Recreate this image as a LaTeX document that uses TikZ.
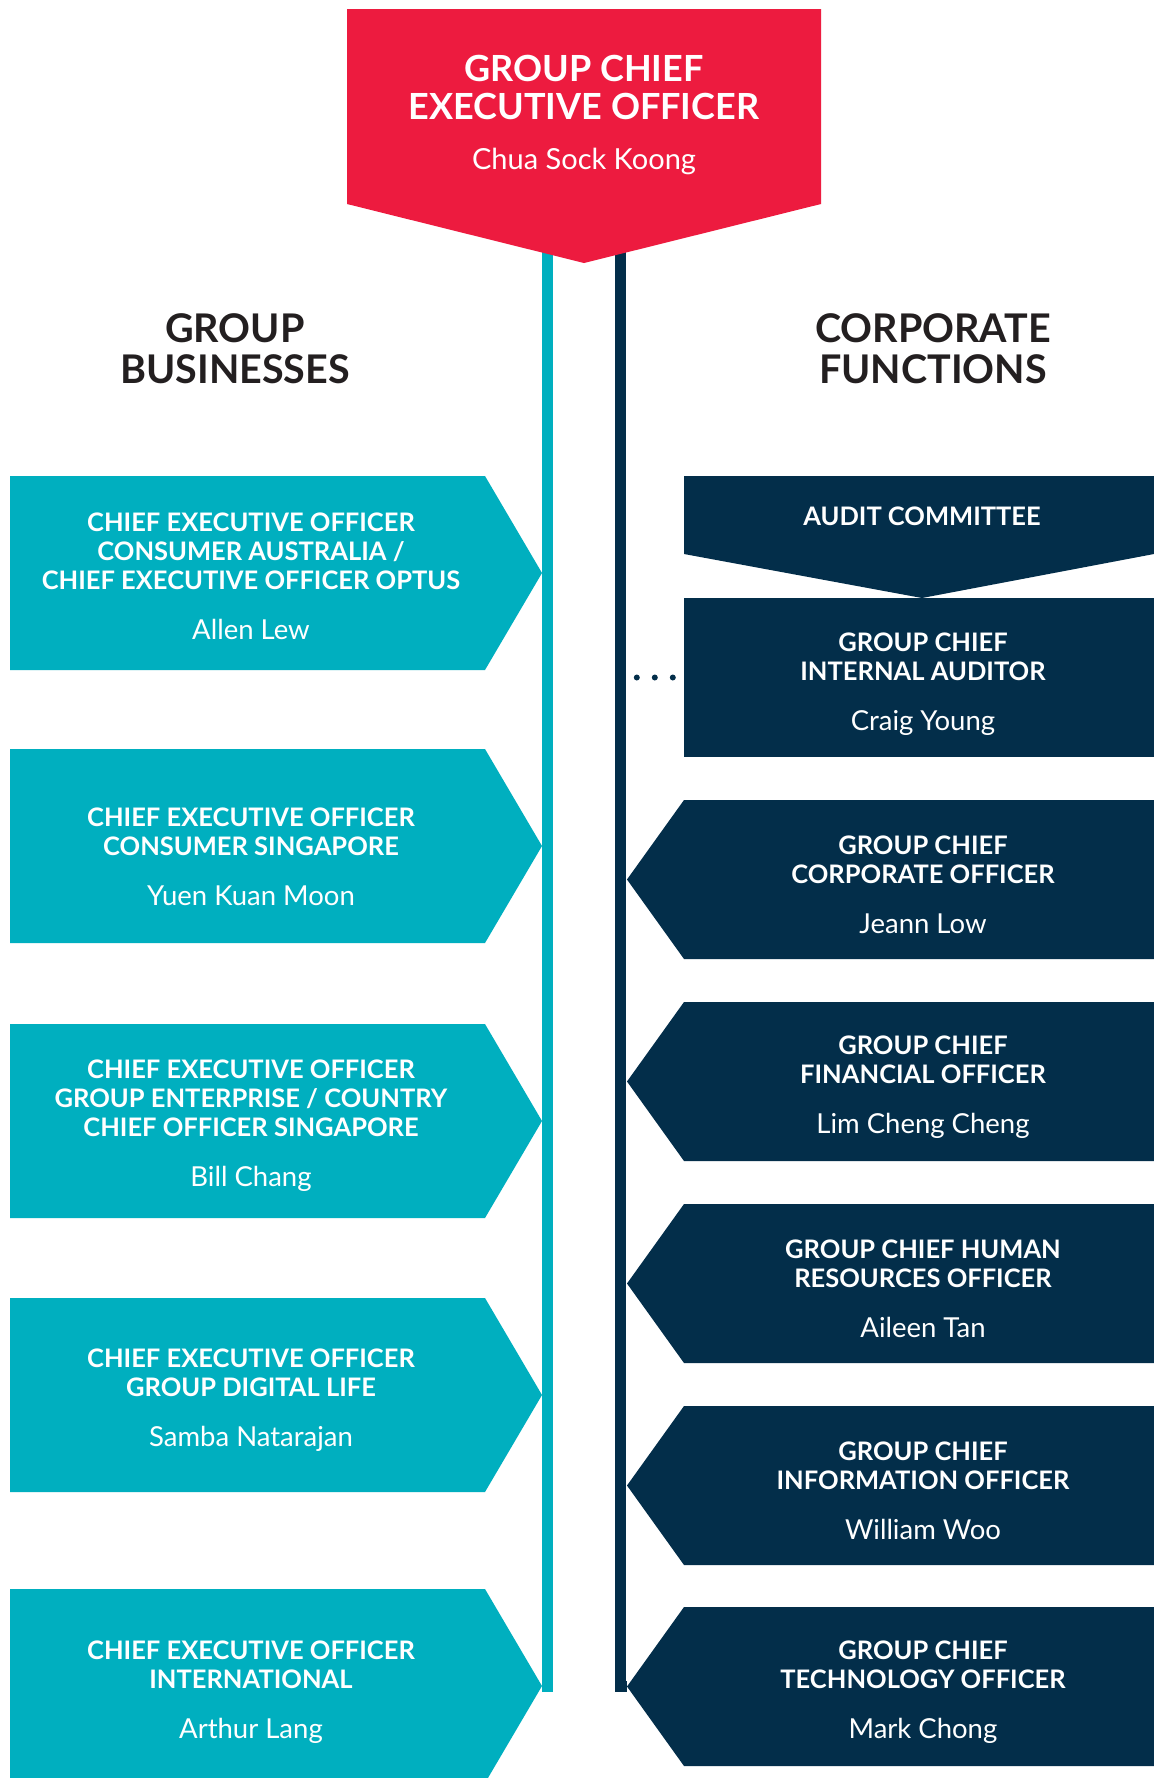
\documentclass[tikz,border=0pt]{standalone}
\usepackage{fontspec}
\setmainfont{Lato}
\usetikzlibrary{positioning}

\definecolor{ceored}{RGB}{237,27,63}
\definecolor{bizteal}{RGB}{0,175,191}
\definecolor{corpnavy}{RGB}{3,46,74}
\definecolor{headgray}{RGB}{35,31,32}

\tikzset{
  boxtext/.style={text=white, align=center, inner sep=0pt,
    font=\bfseries\fontsize{25.5}{29}\selectfont},
  ceotext/.style={text=white, align=center, inner sep=0pt,
    font=\bfseries\fontsize{36}{38}\selectfont},
  heading/.style={text=headgray, align=center, inner sep=0pt,
    font=\bfseries\fontsize{39.5}{41}\selectfont},
  bizline/.style={draw=bizteal, line width=11pt},
  corpline/.style={draw=corpnavy, line width=11pt},
  dotlink/.style={draw=corpnavy, line width=6pt, line cap=round, dash pattern=on 0pt off 18pt},
}
\newcommand{\who}[1]{{\mdseries\fontsize{27.5}{29}\selectfont #1}}

% teal arrow box pointing right at the rail: [text drop], name, top, title, person
\newcommand{\bizbox}[5][0]{%
  \fill [bizteal] (10,#3) -- (485,#3) -- (542,#3+97) -- (485,#3+194) -- (10,#3+194) -- cycle;
  \coordinate (#2-tip) at (542,#3+97);
  \node [boxtext] (#2) at (251,#3+102+#1) {#4\\[21pt]\who{#5}};
}
% navy arrow box pointing left at the rail
\newcommand{\corpbox}[4]{%
  \fill [corpnavy] (684,#2) -- (1154,#2) -- (1154,#2+159) -- (684,#2+159) -- (627,#2+79.5) -- cycle;
  \coordinate (#1-tip) at (627,#2+79.5);
  \node [boxtext] (#1) at (923,#2+85) {#3\\[21pt]\who{#4}};
}

\begin{document}
\begin{tikzpicture}[x=1pt,y=-1pt]
\fill [white] (0,0) rectangle (1154,1778);
\useasboundingbox (0,0) rectangle (1154,1778);

\node [heading] (bizhead) at (235,349) {GROUP\\BUSINESSES};
\node [heading] (corphead) at (933,349) {CORPORATE\\FUNCTIONS};

\bizbox[-2]{cons-au}{476}{CHIEF EXECUTIVE OFFICER\\CONSUMER AUSTRALIA /\\CHIEF EXECUTIVE OFFICER OPTUS}{Allen Lew}
\bizbox[6]{cons-sg}{749}{CHIEF EXECUTIVE OFFICER\\CONSUMER SINGAPORE}{Yuen Kuan Moon}
\bizbox{enterprise}{1024}{CHIEF EXECUTIVE OFFICER\\GROUP ENTERPRISE / COUNTRY\\CHIEF OFFICER SINGAPORE}{Bill Chang}
\bizbox{digital}{1298}{CHIEF EXECUTIVE OFFICER\\GROUP DIGITAL LIFE}{Samba Natarajan}
\bizbox[1]{intl}{1589}{CHIEF EXECUTIVE OFFICER\\INTERNATIONAL}{Arthur Lang}

% audit committee over the internal auditor
\fill [corpnavy] (684,476) -- (1154,476) -- (1154,554) -- (922,598) -- (684,554) -- cycle;
\node [boxtext] (audit) at (922,516) {AUDIT COMMITTEE};
\node [boxtext, fill=corpnavy, minimum width=470pt, minimum height=159pt] (gcia) at (919,677.5) {};
\node [boxtext] (gcia-text) at (923,684.5) {GROUP CHIEF\\INTERNAL AUDITOR\\[21pt]\who{Craig Young}};
\draw [dotlink] ([xshift=-47pt]gcia.west) -- (gcia.west);

\corpbox{gcco}{800}{GROUP CHIEF\\CORPORATE OFFICER}{Jeann Low}
\corpbox{gcfo}{1002}{GROUP CHIEF\\FINANCIAL OFFICER}{Lim Cheng Cheng}
\corpbox{gchro}{1204}{GROUP CHIEF HUMAN\\RESOURCES OFFICER}{Aileen Tan}
\corpbox{gcio}{1406}{GROUP CHIEF\\INFORMATION OFFICER}{William Woo}
\corpbox{gcto}{1607}{GROUP CHIEF\\TECHNOLOGY OFFICER}{Mark Chong}

% the two rails, under the CEO box
\coordinate (bizrail) at (547.5,240);
\coordinate (corprail) at (620.5,240);
\draw [bizline] (bizrail) |- (intl-tip);
\draw [corpline] (corprail) |- (gcto-tip);

\fill [ceored] (347,9) -- (821,9) -- (821,204) -- (584,263) -- (347,204) -- cycle;
\node [ceotext] (ceo) at (584,115) {GROUP CHIEF\\EXECUTIVE OFFICER\\[12pt]{\mdseries\fontsize{29}{38}\selectfont Chua Sock Koong}};
\end{tikzpicture}
\end{document}
